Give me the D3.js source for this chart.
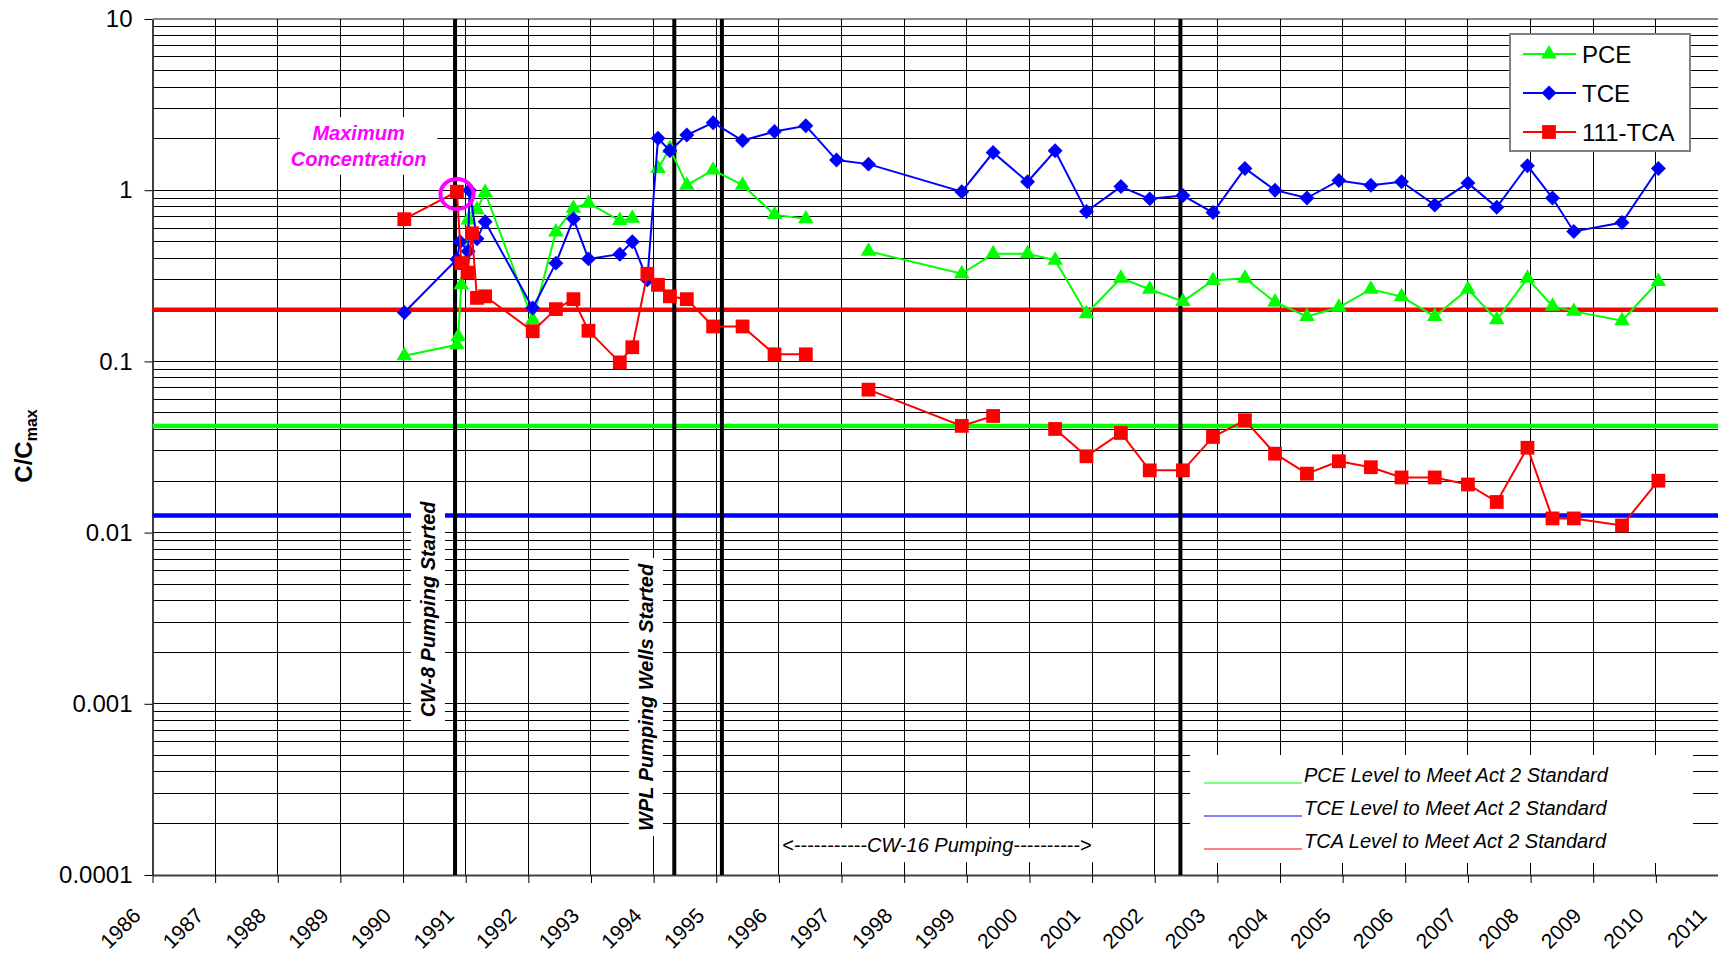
<!DOCTYPE html>
<html>
<head>
<meta charset="utf-8">
<script src="https://cdn.jsdelivr.net/npm/d3@7"></script>
<style>
  body { margin: 0; background: #fff; }
  text { font-family: Arial, "Liberation Sans", sans-serif; }
</style>
</head>
<body>
<div id="chart"></div>
<script>
// ---- Data (dates as decimal years, values as C/Cmax) ----
var pceDates = [1990.02, 1990.86, 1990.88, 1990.93, 1991.04, 1991.18, 1991.31, 1992.07, 1992.44, 1992.72,
  1992.96, 1993.46, 1993.66, 1993.9, 1994.07, 1994.26, 1994.53, 1994.95, 1995.42, 1995.93,
  1996.43, 1996.92, 1997.43, 1998.92, 1999.42, 1999.97, 2000.41, 2000.91, 2001.46, 2001.92,
  2002.45, 2002.93, 2003.44, 2003.92, 2004.43, 2004.94, 2005.45, 2005.94, 2006.47, 2007.0,
  2007.46, 2007.95, 2008.35, 2008.69, 2009.46, 2010.04];
var pceValues = [0.108, 0.125, 0.14, 0.28, 0.67, 0.77, 0.97, 0.175, 0.57, 0.785,
  0.84, 0.665, 0.686, null, 1.34, 1.75, 1.07, 1.31, 1.07, 0.72,
  0.68, null, 0.44, 0.325, 0.425, 0.425, 0.39, 0.19, 0.306, 0.264,
  0.224, 0.297, 0.306, 0.222, 0.183, 0.207, 0.264, 0.239, 0.183, 0.264,
  0.175, 0.306, 0.21, 0.196, 0.173, 0.293];

var tceDates = [1990.02, 1990.86, 1990.91, 1991.04, 1991.06, 1991.18, 1991.31, 1992.07, 1992.44, 1992.72,
  1992.96, 1993.46, 1993.66, 1993.9, 1994.07, 1994.26, 1994.53, 1994.95, 1995.42, 1995.93,
  1996.43, 1996.92, 1997.43, 1998.92, 1999.42, 1999.97, 2000.41, 2000.91, 2001.46, 2001.92,
  2002.45, 2002.93, 2003.44, 2003.92, 2004.43, 2004.94, 2005.45, 2005.94, 2006.47, 2007.0,
  2007.46, 2007.95, 2008.35, 2008.69, 2009.46, 2010.04];
var tceValues = [0.193, 0.395, 0.50, 0.44, 1.0, 0.52, 0.655, 0.205, 0.375, 0.68,
  0.397, 0.423, 0.50, 0.30, 2.01, 1.70, 2.10, 2.48, 1.95, 2.20,
  2.38, 1.50, 1.42, 0.98, 1.66, 1.12, 1.70, 0.75, 1.05, 0.89,
  0.93, 0.74, 1.34, 1.0, 0.90, 1.14, 1.07, 1.12, 0.82, 1.10,
  0.795, 1.39, 0.90, 0.574, 0.647, 1.34];

var tcaDates = [1990.02, 1990.86, 1990.93, 1991.03, 1991.1, 1991.18, 1991.31, 1992.07, 1992.44, 1992.72,
  1992.96, 1993.46, 1993.66, 1993.9, 1994.07, 1994.26, 1994.53, 1994.95, 1995.42, 1995.93,
  1996.43, 1996.92, 1997.43, 1998.92, 1999.42, 1999.97, 2000.41, 2000.91, 2001.46, 2001.92,
  2002.45, 2002.93, 2003.44, 2003.92, 2004.43, 2004.94, 2005.45, 2005.94, 2006.47, 2007.0,
  2007.46, 2007.95, 2008.35, 2008.69, 2009.46, 2010.04];
var tcaValues = [0.677, 0.98, 0.375, 0.33, 0.56, 0.235, 0.24, 0.15, 0.202, 0.231,
  0.151, 0.0987, 0.121, 0.325, 0.28, 0.24, 0.231, 0.16, 0.16, 0.11,
  0.11, null, 0.0684, 0.042, 0.048, null, 0.0403, 0.0279, 0.0382, 0.0231,
  0.0231, 0.0362, 0.0453, 0.0289, 0.0221, 0.0261, 0.0241, 0.021, 0.021, 0.0191,
  0.0151, 0.0313, 0.0121, 0.0121, 0.011, 0.0201];

var seriesNames = ["PCE", "TCE", "111-TCA"];
var yearTicks = d3.range(1986, 2012);
var yTickValues = [0.0001, 0.001, 0.01, 0.1, 1, 10];
var yTickLabels = ["0.0001", "0.001", "0.01", "0.1", "1", "10"];

// Act 2 standard levels (PCE, TCE, TCA) and their legend text
var standardLevels = [0.042, 0.0126, 0.2];
var standardNames = ["PCE Level to Meet Act 2 Standard", "TCE Level to Meet Act 2 Standard", "TCA Level to Meet Act 2 Standard"];

// Pumping events (thick vertical lines)
var eventDates = [1990.83, 1994.33, 1995.09, 2002.41];

// Maximum concentration point
var maxDate = 1990.86;
var maxValue = 0.95;

// ---- Chart setup ----
var svgWidth = 1718;
var svgHeight = 960;

var chartMargin = {
  top: 19,
  right: 0,
  bottom: 85,
  left: 152.5
};

var chartWidth = svgWidth - chartMargin.left - chartMargin.right + 0.5;
var chartHeight = svgHeight - chartMargin.top - chartMargin.bottom;

var colors = ["#00ff00", "#0000ff", "#ff0000"];

var svg = d3.select("#chart")
  .append("svg")
  .attr("width", svgWidth)
  .attr("height", svgHeight)
  .style("display", "block");

var chartGroup = svg.append("g")
  .attr("transform", `translate(${chartMargin.left}, ${chartMargin.top})`);

var xScale = d3.scaleLinear().domain([1986, 2011]).range([0, chartWidth]);
var yScale = d3.scaleLog().domain([0.0001, 10]).range([chartHeight, 0]);

// Horizontal gridlines (1..9 in every decade)
chartGroup.append("g")
  .selectAll("line")
  .data(yScale.ticks())
  .enter()
  .append("line")
  .attr("x1", 0)
  .attr("x2", chartWidth)
  .attr("y1", d => yScale(d))
  .attr("y2", d => yScale(d))
  .attr("stroke", d => d === 10 ? "#888" : "#000")
  .attr("stroke-width", d => d === 10 ? 2 : 1)
  .attr("shape-rendering", "crispEdges");

// Vertical gridlines at each year
chartGroup.append("g")
  .selectAll("line")
  .data(yearTicks.slice(1))
  .enter()
  .append("line")
  .attr("x1", d => xScale(d))
  .attr("x2", d => xScale(d))
  .attr("y1", 0)
  .attr("y2", chartHeight)
  .attr("stroke", "#000")
  .attr("stroke-width", 1)
  .attr("shape-rendering", "crispEdges");

// Axes
var yAxis = d3.axisLeft(yScale)
  .tickValues(yTickValues)
  .tickFormat((d, i) => yTickLabels[i])
  .tickSize(8)
  .tickSizeOuter(0)
  .tickPadding(12);

var xAxis = d3.axisBottom(xScale)
  .tickValues(yearTicks)
  .tickFormat(d3.format("d"))
  .tickSize(8)
  .tickSizeOuter(0);

var xAxisGroup = chartGroup.append("g")
  .attr("transform", `translate(0, ${chartHeight})`)
  .call(xAxis);

xAxisGroup.selectAll("text")
  .attr("x", 0)
  .attr("y", 0)
  .attr("dy", 0)
  .attr("transform", "translate(-11, 42) rotate(-45)")
  .style("text-anchor", "end")
  .style("font-size", "21px")
  .attr("fill", "#000");

var yAxisGroup = chartGroup.append("g")
  .call(yAxis);

yAxisGroup.selectAll("text")
  .style("font-size", "24px")
  .attr("fill", "#000");

chartGroup.selectAll(".domain")
  .attr("stroke", "#404040")
  .attr("stroke-width", 2);

// Act 2 standard reference lines
chartGroup.append("g")
  .selectAll("line")
  .data(standardLevels)
  .enter()
  .append("line")
  .attr("x1", 0)
  .attr("x2", chartWidth)
  .attr("y1", d => yScale(d))
  .attr("y2", d => yScale(d))
  .attr("stroke", (d, i) => colors[i])
  .attr("stroke-width", 4.5);

// Pumping event lines
chartGroup.append("g")
  .selectAll("line")
  .data(eventDates)
  .enter()
  .append("line")
  .attr("x1", d => xScale(d))
  .attr("x2", d => xScale(d))
  .attr("y1", 0)
  .attr("y2", chartHeight)
  .attr("stroke", "#000")
  .attr("stroke-width", 4);

// Text label with a white box behind it
function boxedLabel(x, y, rotate, lines, style, pad) {
  var g = chartGroup.append("g")
    .attr("transform", `translate(${x}, ${y}) rotate(${rotate})`);
  var rect = g.append("rect").attr("fill", "#fff");
  var text = g.append("text")
    .style("text-anchor", "middle")
    .style("font-size", style.size)
    .style("font-weight", style.weight)
    .style("font-style", "italic")
    .attr("fill", style.color);
  lines.forEach(function(line, i) {
    text.append("tspan")
      .attr("x", 0)
      .attr("y", line.dy)
      .text(line.text);
  });
  var box = text.node().getBBox();
  rect.attr("x", box.x - pad[0])
    .attr("y", box.y - pad[1])
    .attr("width", box.width + 2 * pad[0])
    .attr("height", box.height + 2 * pad[1]);
}

boxedLabel(xScale(1990.51), yScale(0.00356), -90,
  [{text: "CW-8 Pumping  Started", dy: 0}],
  {size: "20px", weight: "bold", color: "#000"}, [4, 6]);

boxedLabel(xScale(1993.99), yScale(0.00109), -90,
  [{text: "WPL Pumping  Wells  Started", dy: 0}],
  {size: "20px", weight: "bold", color: "#000"}, [5, 6]);

boxedLabel(xScale(1989.29), yScale(1.96), 0,
  [{text: "Maximum", dy: 0}, {text: "Concentration", dy: yScale(1.39) - yScale(1.96)}],
  {size: "20px", weight: "bold", color: "#ff00ff"}, [11, 5]);

boxedLabel(xScale(1998.52), yScale(0.000136), 0,
  [{text: "<-----------CW-16 Pumping---------->", dy: 0}],
  {size: "20px", weight: "normal", color: "#000"}, [2, 6]);

// Bottom legend for standard levels
var stdLegend = svg.append("g");
stdLegend.append("rect")
  .attr("x", 1190)
  .attr("y", 755)
  .attr("width", 503)
  .attr("height", 108)
  .attr("fill", "#fff");

standardNames.forEach(function(name, i) {
  var y = 783 + i * 33;
  stdLegend.append("line")
    .attr("x1", 1204)
    .attr("x2", 1302)
    .attr("y1", y)
    .attr("y2", y)
    .attr("stroke", colors[i])
    .attr("stroke-width", 1.2);
  stdLegend.append("text")
    .attr("x", 1304)
    .attr("y", y - 1)
    .style("font-size", "20px")
    .style("font-style", "italic")
    .attr("fill", "#000")
    .text(name);
});

// ---- Data series ----
var seriesData = [
  {name: seriesNames[0], dates: pceDates, values: pceValues, color: colors[0], symbol: "triangle"},
  {name: seriesNames[1], dates: tceDates, values: tceValues, color: colors[1], symbol: "diamond"},
  {name: seriesNames[2], dates: tcaDates, values: tcaValues, color: colors[2], symbol: "square"}
];

function symbolPath(type) {
  if (type === "triangle") return d3.symbol().type(d3.symbolTriangle).size(105)();
  if (type === "diamond") return d3.symbol().type(d3.symbolSquare).size(112)();
  return d3.symbol().type(d3.symbolSquare).size(190)();
}

var line = d3.line()
  .defined(d => d.value != null)
  .x(d => xScale(d.date))
  .y(d => yScale(d.value));

seriesData.forEach(function(series) {
  var points = series.dates.map(function(date, i) {
    return {date: date, value: series.values[i]};
  });

  chartGroup.append("path")
    .datum(points)
    .attr("d", line)
    .attr("fill", "none")
    .attr("stroke", series.color)
    .attr("stroke-width", 2);

  chartGroup.append("g")
    .selectAll("path")
    .data(points.filter(d => d.value != null))
    .enter()
    .append("path")
    .attr("d", symbolPath(series.symbol))
    .attr("transform", d => `translate(${xScale(d.date)}, ${yScale(d.value)})` + (series.symbol === "diamond" ? " rotate(45)" : ""))
    .attr("fill", series.color);
});

// Circle around maximum concentration
chartGroup.append("ellipse")
  .attr("cx", xScale(maxDate))
  .attr("cy", yScale(maxValue))
  .attr("rx", 16.5)
  .attr("ry", 15)
  .attr("fill", "none")
  .attr("stroke", "#ff00ff")
  .attr("stroke-width", 4);

// Series legend (top right)
var legend = svg.append("g");
legend.append("rect")
  .attr("x", 1510)
  .attr("y", 34)
  .attr("width", 180)
  .attr("height", 117)
  .attr("fill", "#fff")
  .attr("stroke", "#808080")
  .attr("stroke-width", 2);

seriesData.forEach(function(series, i) {
  var y = 54 + i * 39;
  legend.append("line")
    .attr("x1", 1523)
    .attr("x2", 1576)
    .attr("y1", y)
    .attr("y2", y)
    .attr("stroke", series.color)
    .attr("stroke-width", 2);
  legend.append("path")
    .attr("d", symbolPath(series.symbol))
    .attr("transform", `translate(1549, ${y})` + (series.symbol === "diamond" ? " rotate(45)" : ""))
    .attr("fill", series.color);
  legend.append("text")
    .attr("x", 1582)
    .attr("y", y)
    .attr("dy", "0.36em")
    .style("font-size", "24px")
    .attr("fill", "#000")
    .text(series.name);
});

// Y-axis title
var yTitle = svg.append("text")
  .attr("transform", "translate(32, 446) rotate(-90)")
  .style("text-anchor", "middle")
  .style("font-size", "24px")
  .style("font-weight", "bold")
  .attr("fill", "#000");
yTitle.append("tspan").text("C/C");
yTitle.append("tspan")
  .attr("dy", "0.3em")
  .style("font-size", "16px")
  .text("max");
</script>
</body>
</html>
